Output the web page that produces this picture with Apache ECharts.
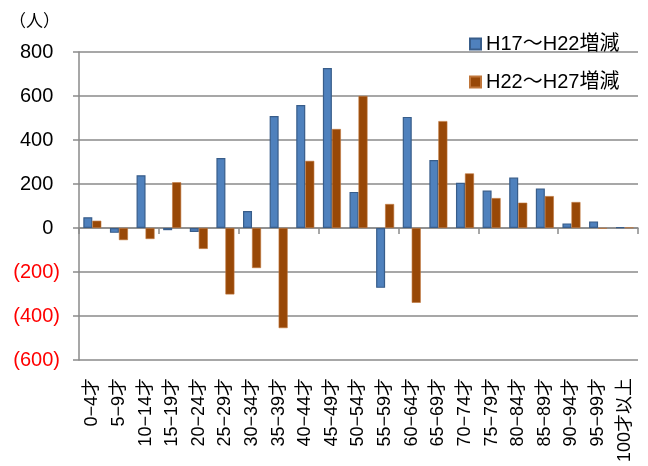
<!DOCTYPE html>
<html>
<head>
<meta charset="utf-8">
<script src="https://cdn.jsdelivr.net/npm/echarts@6/dist/echarts.min.js"></script>
<style>
  html, body { margin: 0; padding: 0; background: #fff; }
  #chart { width: 648px; height: 466px; }
</style>
</head>
<body>
<div id="chart"></div>
<script>
const ageGroups = [
  '0−4才', '5−9才', '10−14才', '15−19才', '20−24才', '25−29才', '30−34才',
  '35−39才', '40−44才', '45−49才', '50−54才', '55−59才', '60−64才', '65−69才',
  '70−74才', '75−79才', '80−84才', '85−89才', '90−94才', '95−99才', '100才以上',
]
const changeH17toH22 = [49, -22, 240, -10, -18, 318, 77, 509, 559, 727, 164, -272, 505, 309, 206, 170, 229, 179, 21, 30, 3]
const changeH22toH27 = [33, -55, -50, 208, -95, -302, -182, -455, 305, 450, 600, 109, -340, 486, 248, 136, 115, 145, 118, -3, 2]
const seriesNames = ['H17～H22増減', 'H22～H27増減']
const yTicks = { min: -600, max: 800, interval: 200 }

const fontFamily = '"Liberation Sans", Arial, "Noto Sans CJK JP", sans-serif'
const axisGray = '#8a8a8a'

const chart = echarts.init(document.getElementById('chart'))

chart.setOption({
  animation: false,
  textStyle: { fontFamily },
  title: {
    text: '（人）',
    left: 4,
    top: 9,
    textStyle: { fontSize: 17, fontWeight: 'normal', color: '#000', fontFamily },
  },
  legend: {
    orient: 'vertical',
    left: 469,
    top: 34,
    padding: 0,
    itemWidth: 11,
    itemHeight: 11,
    itemGap: 18,
    icon: 'rect',
    data: seriesNames,
    textStyle: { fontSize: 20, color: '#000', fontFamily },
  },
  grid: { left: 79, right: 10, top: 52, bottom: 106 },
  xAxis: [
    {
      type: 'category',
      data: ageGroups,
      position: 'bottom',
      axisLine: { show: false, onZero: false },
      axisTick: { show: false },
      axisLabel: {
        rotate: 90,
        interval: 0,
        margin: 18,
        fontSize: 18,
        color: '#000',
      },
    },
    {
      // zero line with the category ticks
      type: 'category',
      data: ageGroups,
      position: 'bottom',
      axisLine: { show: true, onZero: true, lineStyle: { color: axisGray, width: 1.5 } },
      axisTick: { show: true, inside: false, length: 6, lineStyle: { color: axisGray, width: 1.5 } },
      axisLabel: { show: false },
    },
  ],
  yAxis: {
    type: 'value',
    min: yTicks.min,
    max: yTicks.max,
    interval: yTicks.interval,
    axisLine: { show: true, lineStyle: { color: axisGray, width: 1.5 } },
    axisTick: { show: true, length: 6, lineStyle: { color: axisGray, width: 1.5 } },
    splitLine: { lineStyle: { color: axisGray, width: 1.5 } },
    axisLabel: {
      margin: 19,
      // positive values keep room for the closing parenthesis, like the negatives
      formatter: (val) => (val < 0 ? `{neg|(${-val})}` : `{pos|${val}}{pad|)}`),
      rich: {
        pos: { fontSize: 20, color: '#000', fontFamily },
        pad: { fontSize: 20, color: 'rgba(0,0,0,0)', fontFamily },
        neg: { fontSize: 20, color: '#ff0000', fontFamily },
      },
    },
  },
  series: [
    {
      name: seriesNames[0],
      type: 'bar',
      data: changeH17toH22,
      barWidth: 9,
      barGap: '0%',
      itemStyle: { color: '#4f81bd', borderColor: '#385d8a', borderWidth: 1.2 },
    },
    {
      name: seriesNames[1],
      type: 'bar',
      data: changeH22toH27,
      barWidth: 9,
      barGap: '0%',
      itemStyle: { color: '#984807', borderColor: '#c0763a', borderWidth: 0.6 },
    },
  ],
})
</script>
</body>
</html>
